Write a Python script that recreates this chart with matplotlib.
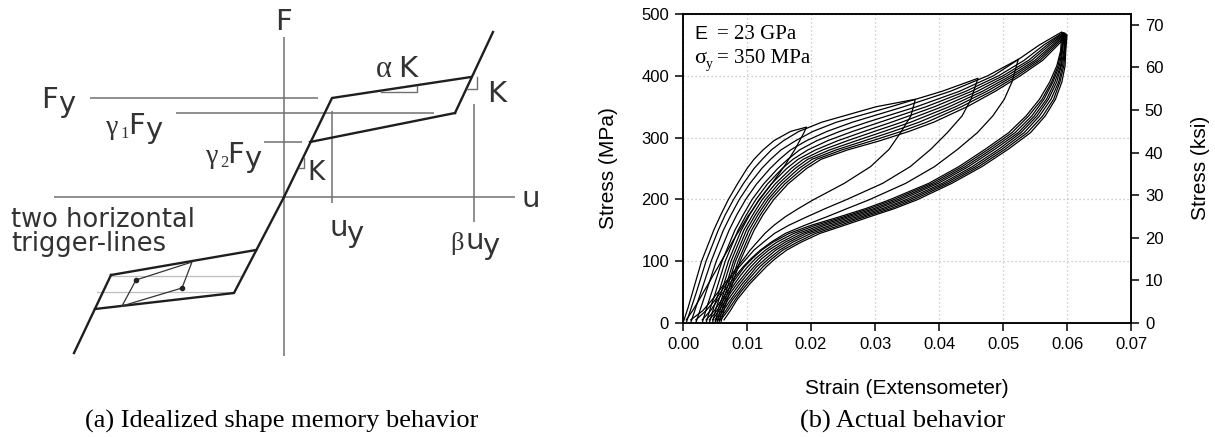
import matplotlib.pyplot as plt

W, H = 1215, 437

# ---------------- (a) idealized schematic, points in picture pixels (y down)
f_axis_x, f_axis_y = [284, 284], [37, 356]
u_axis_x, u_axis_y = [54, 515], [197, 197]

fy_line_x, fy_line_y = [90, 318], [98, 98]
g1_line_x, g1_line_y = [176, 434], [113, 113]
g2_line_x, g2_line_y = [264, 302], [142, 142]
uy_line_x, uy_line_y = [332, 332], [111, 203]
buy_line_x, buy_line_y = [474, 474], [104, 222]

up_load_x, up_load_y = [284, 332, 471], [197, 98, 77]
up_steep_x, up_steep_y = [455, 493], [113, 32]
up_unload_x, up_unload_y = [455, 310], [113, 142]
lo_load_x, lo_load_y = [284, 234, 95], [197, 293, 309]
lo_steep_x, lo_steep_y = [111, 74], [275, 353]
lo_unload_x, lo_unload_y = [111, 256], [275, 250]

inner_x = [122, 136, 192, 182, 122]
inner_y = [306, 280, 262, 288, 306]
dots_x, dots_y = [136, 182], [280, 288]
trig1_x, trig1_y = [110, 240], [276, 276]
trig2_x, trig2_y = [97, 233], [292, 292]

ak_mark_x, ak_mark_y = [381, 417, 417], [92, 92, 86]
kr_mark_x, kr_mark_y = [467, 477, 477], [89, 89, 77]
kl_mark_x, kl_mark_y = [299, 304, 304], [168, 168, 158]

# ---------------- (b) measured cycles (strain read at fixed stress levels, MPa)
load_levels = [0, 25, 50, 100, 150, 175, 200, 225, 250, 265, 280, 295, 310, 325, 350, 375, 400, 425, 450]
unload_levels = [440, 416, 390, 362, 335, 308, 281, 253, 226, 199, 185, 172, 158, 145,
                 131, 118, 104, 91, 77, 64, 50, 37, 20, 5]

peak_strain = [0.0193, 0.0363, 0.0461, 0.0524, 0.0592, 0.0594,
               0.0595, 0.0596, 0.0597, 0.0598, 0.0599, 0.0600]
peak_stress = [317, 362, 396, 427, 471, 470, 470, 469, 469, 468, 467, 466]

load_strain = [
    [0.0, .0008, .0015, .0029, .0048, .0059, .0071, .0085, .0100, .0111, .0125, .0142, .0168],
    [.0005, .0013, .0021, .0036, .0055, .0066, .0079, .0094, .0111, .0124, .0138, .0157, .0181, .0217, .0302],
    [.0012, .0020, .0028, .0044, .0063, .0075, .0088, .0104, .0123, .0137, .0153, .0176, .0203, .0240, .0325, .0405],
    [.0020, .0028, .0036, .0052, .0072, .0084, .0098, .0115, .0136, .0151, .0168, .0193, .0225, .0265, .0345, .0418, .0476, .0521],
    [.0030, .0037, .0045, .0061, .0081, .0094, .0108, .0126, .0148, .0164, .0182, .0209, .0245, .0288, .0365, .0432, .0485, .0522, .0557],
    [.0036, .0043, .0051, .0066, .0086, .0099, .0114, .0132, .0155, .0172, .0195, .0226, .0265, .0308, .0380, .0442, .0493, .0533, .0564],
    [.0041, .0048, .0056, .0071, .0091, .0104, .0119, .0138, .0162, .0180, .0207, .0242, .0283, .0326, .0393, .0451, .0500, .0540, .0569],
    [.0046, .0052, .0060, .0075, .0095, .0109, .0124, .0144, .0169, .0188, .0218, .0257, .0299, .0342, .0405, .0460, .0506, .0545, .0573],
    [.0050, .0056, .0064, .0079, .0099, .0113, .0129, .0149, .0175, .0195, .0229, .0271, .0314, .0356, .0416, .0468, .0512, .0550, .0577],
    [.0053, .0059, .0067, .0082, .0103, .0117, .0133, .0154, .0181, .0202, .0239, .0284, .0328, .0369, .0426, .0475, .0517, .0554, .0580],
    [.0056, .0062, .0070, .0086, .0107, .0121, .0137, .0159, .0187, .0209, .0248, .0296, .0341, .0381, .0435, .0482, .0522, .0558, .0583],
    [.0059, .0065, .0073, .0089, .0111, .0125, .0142, .0164, .0193, .0216, .0257, .0308, .0353, .0392, .0444, .0488, .0527, .0562, .0586],
]

unload_strain = [
    [.0189, .0175, .0158, .0139, .0119, .0110, .0101, .0093, .0085, .0077, .0070, .0062, .0055, .0047, .0040, .0032, .0025, .0015, .0005],
    [.0356, .0340, .0322, .0293, .0252, .0203, .0180, .0160, .0142, .0128, .0116, .0105, .0095, .0085, .0075, .0065, .0055, .0045, .0031, .0012],
    [.0459, .0450, .0436, .0413, .0387, .0355, .0312, .0254, .0222, .0194, .0165, .0143, .0126, .0111, .0099, .0088, .0078, .0068, .0059, .0050, .0036, .0020],
    [.0521, .0514, .0502, .0484, .0460, .0429, .0393, .0348, .0290, .0256, .0225, .0190, .0160, .0138, .0121, .0106, .0094, .0083, .0073, .0063, .0054, .0043, .0030],
    [.0590, .0584, .0573, .0557, .0536, .0509, .0472, .0431, .0384, .0322, .0285, .0245, .0200, .0166, .0141, .0123, .0108, .0096, .0086, .0077, .0068, .0060, .0049, .0036],
    [.0591, .0586, .0576, .0561, .0540, .0514, .0477, .0436, .0389, .0328, .0291, .0252, .0207, .0173, .0147, .0129, .0113, .0101, .0090, .0081, .0072, .0063, .0053, .0041],
    [.0592, .0588, .0578, .0564, .0545, .0519, .0482, .0441, .0394, .0334, .0298, .0258, .0215, .0180, .0154, .0134, .0118, .0106, .0095, .0085, .0075, .0067, .0056, .0046],
    [.0593, .0590, .0581, .0568, .0549, .0524, .0487, .0446, .0399, .0340, .0304, .0265, .0222, .0187, .0160, .0140, .0123, .0111, .0099, .0089, .0079, .0070, .0060, .0050],
    [.0595, .0591, .0584, .0571, .0553, .0528, .0493, .0452, .0405, .0347, .0311, .0272, .0230, .0193, .0166, .0145, .0129, .0115, .0104, .0093, .0083, .0074, .0063, .0053],
    [.0596, .0593, .0587, .0575, .0557, .0533, .0498, .0457, .0410, .0353, .0317, .0279, .0237, .0200, .0172, .0151, .0134, .0120, .0108, .0097, .0087, .0077, .0067, .0056],
    [.0597, .0595, .0589, .0579, .0562, .0538, .0503, .0462, .0415, .0359, .0324, .0285, .0245, .0207, .0179, .0156, .0139, .0125, .0113, .0101, .0090, .0081, .0070, .0059],
    [.0598, .0597, .0592, .0582, .0566, .0543, .0508, .0467, .0420, .0365, .0330, .0292, .0252, .0214, .0185, .0162, .0144, .0130, .0117, .0105, .0094, .0084, .0074, .0064],
]

x_ticks = [0.00, 0.01, 0.02, 0.03, 0.04, 0.05, 0.06, 0.07]
mpa_ticks = [0, 100, 200, 300, 400, 500]
ksi_ticks = [0, 10, 20, 30, 40, 50, 60, 70]
MPA_PER_KSI = 6.89476

SANS = 'Liberation Sans'
SERIF = 'Liberation Serif'
WIDE = 'DejaVu Sans'

fig = plt.figure(figsize=(W / 100, H / 100), dpi=100)


def ftext(x, y, s, **kw):
    # place text by picture pixel
    return fig.text(x / W, 1 - y / H, s, **kw)


# ---------- left schematic
axl = fig.add_axes([0, 0, 600 / W, 1])
axl.set_xlim(0, 600)
axl.set_ylim(H, 0)
axl.axis('off')

gray = '#707070'
dark = '#1e1e1e'
for xs, ys in [(f_axis_x, f_axis_y), (u_axis_x, u_axis_y), (fy_line_x, fy_line_y),
               (g1_line_x, g1_line_y), (g2_line_x, g2_line_y),
               (uy_line_x, uy_line_y), (buy_line_x, buy_line_y)]:
    axl.plot(xs, ys, color=gray, lw=1.1, solid_capstyle='butt')
for xs, ys in [(trig1_x, trig1_y), (trig2_x, trig2_y)]:
    axl.plot(xs, ys, color='#bdbdbd', lw=0.9)
for xs, ys in [(up_load_x, up_load_y), (up_steep_x, up_steep_y), (up_unload_x, up_unload_y),
               (lo_load_x, lo_load_y), (lo_steep_x, lo_steep_y), (lo_unload_x, lo_unload_y)]:
    axl.plot(xs, ys, color=dark, lw=1.7, solid_joinstyle='miter')
axl.plot(inner_x, inner_y, color='#333333', lw=0.9)
axl.plot(dots_x, dots_y, 'o', color='#222222', ms=3)
for xs, ys in [(ak_mark_x, ak_mark_y), (kr_mark_x, kr_mark_y), (kl_mark_x, kl_mark_y)]:
    axl.plot(xs, ys, color=gray, lw=1.0)

ink = '#333333'
lab = dict(family=WIDE, color=ink, va='baseline')
grk = dict(family=SERIF, color=ink, va='baseline')
ftext(284, 30, 'F', size=21, ha='center', **lab)
ftext(522, 207, 'u', size=21, **lab)
ftext(41, 108, 'F', size=21, **lab)
ftext(58, 112, 'y', size=21, **lab)
ftext(106, 134, 'γ', size=20, **grk)
ftext(120, 138, '1', size=12, **grk)
ftext(128, 134, 'F', size=21, **lab)
ftext(145, 138, 'y', size=21, **lab)
ftext(206, 163, 'γ', size=20, **grk)
ftext(220, 167, '2', size=12, **grk)
ftext(227, 163, 'F', size=21, **lab)
ftext(244, 167, 'y', size=21, **lab)
ftext(376, 77, 'α', size=22, **grk)
ftext(398, 77, 'K', size=21, **lab)
ftext(487, 102, 'K', size=21, **lab)
ftext(307, 180, 'K', size=19, **lab)
ftext(329, 236, 'u', size=21, **lab)
ftext(346, 242, 'y', size=21, **lab)
ftext(450, 250, 'β', size=19, **grk)
ftext(465, 249, 'u', size=21, **lab)
ftext(482, 254, 'y', size=21, **lab)
ftext(11, 227, 'two horizontal', size=18.5, **lab)
ftext(11, 251, 'trigger-lines', size=18.5, **lab)

# ---------- right: stress-strain loops
ax = fig.add_axes([683 / W, 1 - 323 / H, 448 / W, 309 / H])
for i in range(len(peak_strain)):
    ls = load_strain[i]
    us = unload_strain[i]
    xs = ls + [peak_strain[i]] + us
    ys = load_levels[:len(ls)] + [peak_stress[i]] + unload_levels[len(unload_levels) - len(us):]
    ax.plot(xs, ys, color='black', lw=0.9, solid_joinstyle='round')

ax.set_xlim(0, 0.07)
ax.set_ylim(0, 500)
ax.set_xticks(x_ticks)
ax.set_xticklabels(['%.2f' % v for v in x_ticks])
ax.set_yticks(mpa_ticks)
ax.grid(True, color='#bdbdbd', lw=0.9, ls=(0, (1, 2.2)))
ax.set_axisbelow(True)
for s in ax.spines.values():
    s.set_linewidth(1.1)
ax.tick_params(direction='out', length=6, width=1.1, pad=4, labelsize=12)

ax2 = ax.twinx()
ax2.set_ylim(0, 500 / MPA_PER_KSI)
ax2.set_yticks(ksi_ticks)
ax2.tick_params(direction='out', length=6, width=1.1, pad=4, labelsize=12)
for s in ax2.spines.values():
    s.set_linewidth(1.1)
for a in (ax, ax2):
    for t in a.get_xticklabels() + a.get_yticklabels():
        t.set_family(SANS)

ftext(608, 168, 'Stress (MPa)', size=15, family=SANS, rotation=90, ha='center', va='center')
ftext(1200, 168, 'Stress (ksi)', size=15, family=SANS, rotation=90, ha='center', va='center')
ftext(907, 388, 'Strain (Extensometer)', size=15, family=SANS, ha='center', va='center')

ftext(694, 39, 'E', size=14, family=SANS, va='baseline')
ftext(717, 39, '= 23 GPa', size=15, family=SERIF, va='baseline')
ftext(694, 63, 'σ', size=16, family=SERIF, va='baseline')
ftext(706, 68, 'y', size=10, family=SERIF, va='baseline')
ftext(717, 63, '= 350 MPa', size=15, family=SERIF, va='baseline')

ftext(282, 421, '(a) Idealized shape memory behavior', size=19, family=SERIF,
      ha='center', va='center')
ftext(903, 421, '(b) Actual behavior', size=19, family=SERIF, ha='center', va='center')

fig.savefig('out.png', dpi=100)
